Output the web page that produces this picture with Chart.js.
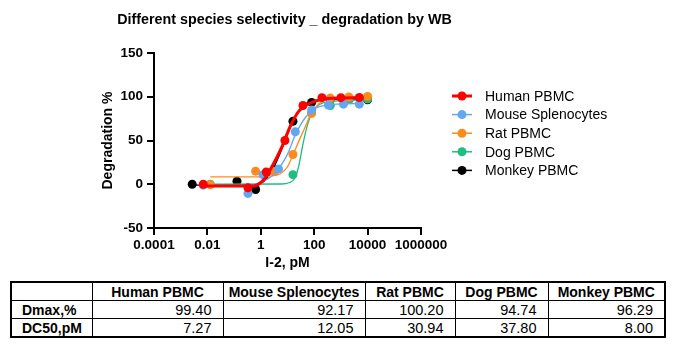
<!DOCTYPE html>
<html>
<head>
<meta charset="utf-8">
<script src="https://cdn.jsdelivr.net/npm/chart.js@4/dist/chart.umd.min.js"></script>
<style>
  body { margin: 0; background: #fff; font-family: Arial, 'Liberation Sans', sans-serif; }
  #wrap { position: relative; width: 674px; height: 347px; }
  #myChart { position: absolute; left: 0; top: 0; }
  #tbl { position: absolute; left: 10px; top: 281px; border-collapse: collapse; border: 2px solid #000; table-layout: fixed; width: 654px; }
  #tbl td, #tbl th { border: 1px solid #000; padding: 0 11px 0 10px; height: 17px; line-height: 16px; white-space: nowrap; color: #000; }
  #tbl th { font-weight: bold; font-size: 14px; text-align: center; padding: 0 2px; }
  #tbl td.lbl { font-weight: bold; font-size: 14px; text-align: left; }
  #tbl td.num { text-align: right; font-size: 14.5px; }
</style>
</head>
<body>
<div id="wrap">
  <canvas id="myChart" width="674" height="278"></canvas>
  <table id="tbl"></table>
</div>
<script>
// ** Labels
const chartTitle = 'Different species selectivity _ degradation by WB'
const xTitle = 'I-2, pM'
const yTitle = 'Degradation %'
const species = ['Human PBMC', 'Mouse Splenocytes', 'Rat PBMC', 'Dog PBMC', 'Monkey PBMC']
const colors = ['#ff0000', '#62a7f3', '#ff8a1c', '#1fbd82', '#000000']

// ** Axis ticks
const xTickVals = [0.0001, 0.01, 1, 100, 10000, 1000000]
const xTickLabels = ['0.0001', '0.01', '1', '100', '10000', '1000000']
const yTickVals = [-50, 0, 50, 100, 150]

// ** Measured points [conc pM, degradation %]
const humanPts = [[0.007, 0], [0.33, -4], [1.6, 14], [8, 50], [38, 90], [195, 99], [1000, 99], [4900, 99.2]]
const mousePts = [[0.007, -1], [0.33, -10.5], [1.2, 11], [4.6, 17.5], [19.6, 60], [81, 85], [340, 90.5], [1250, 91.5], [4900, 91.5]]
const ratPts = [[0.0128, -0.5], [0.64, 15], [3.2, 14.5], [16, 34], [80, 81], [400, 98.5], [2000, 99.7], [10000, 100.4]]
const dogPts = [[0.0128, 0], [16, 11], [80, 82], [400, 90], [2000, 96.6], [10000, 97.4]]
const monkeyPts = [[0.0027, 0], [0.128, 3.5], [0.64, -6], [3.2, 16.5], [16, 72], [80, 93.5], [400, 97], [2000, 97], [10000, 96.6]]

// ** Fitted curves
const humanFit = [[0.007, -2], [0.5, -2], [1.27, 5], [2.6, 20], [6.2, 43], [12.6, 66], [25.7, 83], [53, 91], [167, 96.6], [1250, 98.6], [4900, 98.8]]
const mouseFit = [[0.007, -2], [0.3, -1.5], [1, 2], [3, 11], [9.5, 33], [20, 57], [46, 76], [100, 86], [300, 90.5], [1200, 92], [4900, 92.2]]
const ratFit = [[0.0128, 8.4], [1, 8.5], [2.5, 9.5], [5.4, 12], [10, 20], [15.8, 33], [30, 53], [50, 68], [71, 79], [150, 92], [400, 98], [2000, 99.8], [10000, 100.2]]
const dogFit = [[0.0128, 0], [6, 0.3], [12, 2], [18, 6], [26, 20], [38, 46], [55, 67], [80, 81], [126, 89], [218, 93], [520, 95], [10000, 96.5]]
const monkeyFit = [[0.0027, -1], [0.5, -1], [1.3, 3], [2.8, 17], [6.5, 42], [13, 66], [26, 84], [55, 93], [170, 96.5], [1000, 97], [10000, 97.2]]

// ** Table values
const dmax = ['99.40', '92.17', '100.20', '94.74', '96.29']
const dc50 = ['7.27', '12.05', '30.94', '37.80', '8.00']

const pts = [humanPts, mousePts, ratPts, dogPts, monkeyPts]
const fits = [humanFit, mouseFit, ratFit, dogFit, monkeyFit]
const toXY = arr => arr.map(p => ({ x: p[0], y: p[1] }))

const datasets = []
species.forEach((name, i) => {
  datasets.push({
    label: name,
    data: toXY(pts[i]),
    pointRadius: 4.5,
    pointBackgroundColor: colors[i],
    pointBorderColor: colors[i],
    pointBorderWidth: 0,
    showLine: false
  })
  datasets.push({
    label: name + ' fit',
    data: toXY(fits[i]),
    showLine: true,
    pointRadius: 0,
    borderColor: colors[i],
    borderWidth: i === 0 ? 3 : 1.3,
    cubicInterpolationMode: 'monotone'
  })
})

const font = 'Arial, "Liberation Sans", sans-serif'

// draws title and legend
const labelsPlugin = {
  id: 'labelsPlugin',
  afterDraw(chart) {
    const ctx = chart.ctx
    ctx.save()
    ctx.fillStyle = '#000'
    ctx.font = 'bold 14.3px ' + font
    ctx.textAlign = 'center'
    ctx.textBaseline = 'middle'
    ctx.fillText(chartTitle, 284.5, 20)

    ctx.font = '14px ' + font
    ctx.textAlign = 'left'
    species.forEach((name, i) => {
      const y = 96 + i * 18.6
      ctx.strokeStyle = colors[i]
      ctx.lineWidth = i === 0 ? 3 : 1.5
      ctx.beginPath()
      ctx.moveTo(452, y)
      ctx.lineTo(472, y)
      ctx.stroke()
      ctx.fillStyle = colors[i]
      ctx.beginPath()
      ctx.arc(462, y, 4.5, 0, Math.PI * 2)
      ctx.fill()
      ctx.fillStyle = '#000'
      ctx.fillText(name, 485, y + 1)
    })
    ctx.restore()
  }
}

var ctx = document.getElementById('myChart').getContext('2d')
var myChart = new Chart(ctx, {
  type: 'scatter',
  data: { datasets: datasets },
  plugins: [labelsPlugin],
  options: {
    responsive: false,
    animation: false,
    devicePixelRatio: 1,
    layout: { padding: { left: 90, right: 253, top: 53, bottom: 0 } },
    plugins: { legend: { display: false }, tooltip: { enabled: false } },
    scales: {
      x: {
        type: 'logarithmic',
        min: 0.0001,
        max: 1000000,
        afterBuildTicks: scale => { scale.ticks = xTickVals.map(v => ({ value: v })) },
        afterFit: scale => { scale.height = 50 },
        ticks: {
          autoSkip: false,
          maxRotation: 0,
          padding: 2,
          color: '#000',
          font: { family: font, size: 13.5, weight: 'bold' },
          callback: (v, i) => xTickLabels[i]
        },
        grid: { display: true, drawOnChartArea: false, drawTicks: true, tickLength: 7, color: '#000', lineWidth: 2 },
        border: { display: true, color: '#000', width: 2 },
        title: { display: true, text: xTitle, color: '#000', font: { family: font, size: 14, weight: 'bold' }, padding: { top: 0, bottom: 6.6 } }
      },
      y: {
        min: -50,
        max: 150,
        afterBuildTicks: scale => { scale.ticks = yTickVals.map(v => ({ value: v })) },
        afterFit: scale => { scale.width = 64 },
        ticks: {
          padding: 4,
          color: '#000',
          font: { family: font, size: 13.5, weight: 'bold' }
        },
        grid: { display: true, drawOnChartArea: false, drawTicks: true, tickLength: 7, color: '#000', lineWidth: 2 },
        border: { display: true, color: '#000', width: 2 },
        title: { display: true, text: yTitle, color: '#000', font: { family: font, size: 14, weight: 'bold' }, padding: { top: 9.6, bottom: 0 } }
      }
    }
  }
})

// ** Table under the chart
var tbl = document.getElementById('tbl')
var colW = [81, 131, 142, 90, 93, 117]
var html = '<colgroup>' + colW.map(w => '<col style="width:' + w + 'px">').join('') + '</colgroup>'
html += '<tr><th></th>' + species.map(s => '<th>' + s + '</th>').join('') + '</tr>'
html += '<tr><td class="lbl">Dmax,%</td>' + dmax.map(v => '<td class="num">' + v + '</td>').join('') + '</tr>'
html += '<tr><td class="lbl">DC50,pM</td>' + dc50.map(v => '<td class="num">' + v + '</td>').join('') + '</tr>'
tbl.innerHTML = html
</script>
</body>
</html>
